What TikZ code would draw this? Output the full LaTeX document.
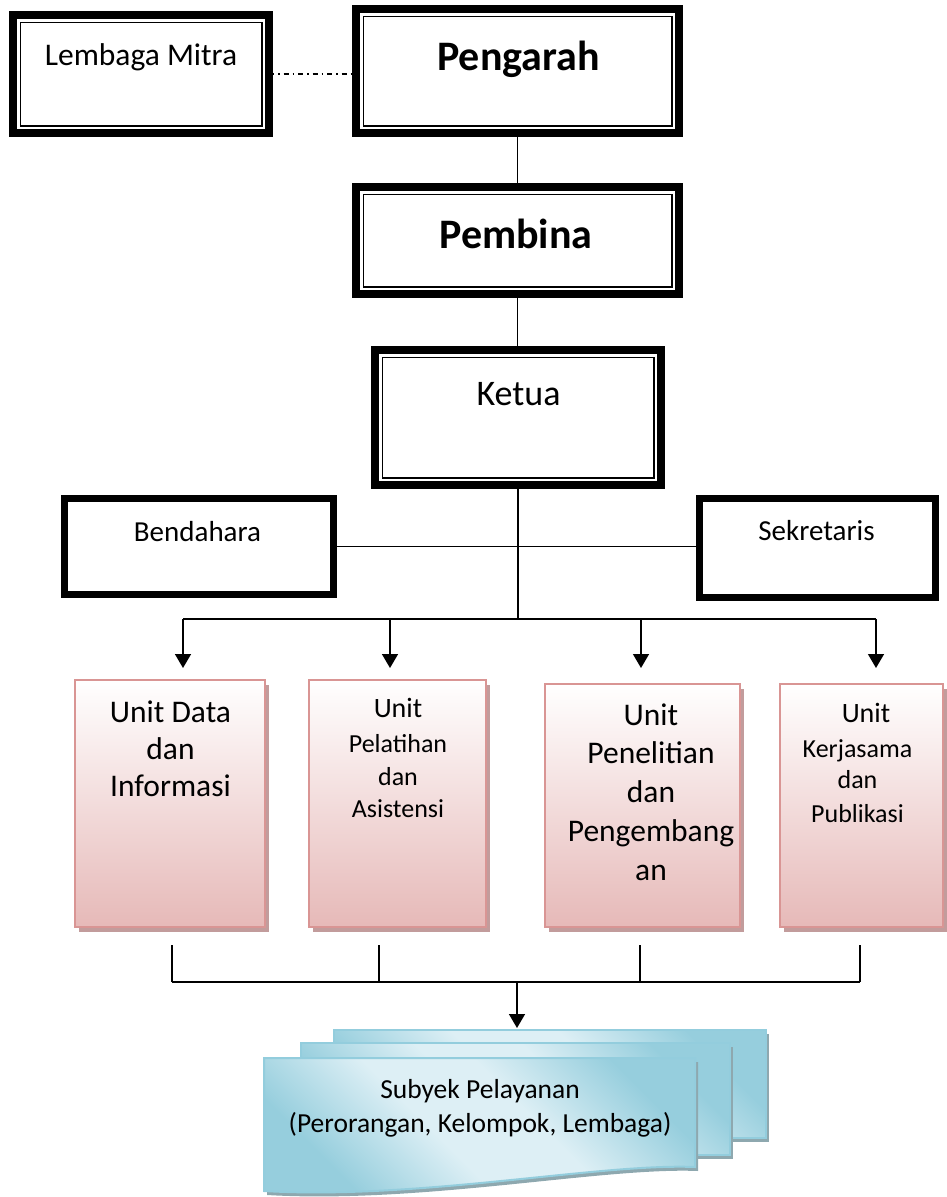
\documentclass[tikz,border=0pt]{standalone}
\usepackage{fontspec}
\setmainfont{Carlito}
\usetikzlibrary{arrows.meta,shadows}
\definecolor{pinkline}{HTML}{D99594}
\definecolor{pinkfill}{HTML}{E6B9B8}
\definecolor{pinkshadow}{HTML}{C29C9C}
\definecolor{blueline}{HTML}{93CDDD}
\definecolor{bluelight}{HTML}{DDEFF5}
\definecolor{bluedark}{HTML}{96CEDD}
\definecolor{blueshadow}{HTML}{8EA8AF}
\pgfdeclareverticalshading{sheetshade}{100bp}{color(0bp)=(bluedark); color(27bp)=(bluedark); color(44bp)=(bluelight); color(58bp)=(bluelight); color(75bp)=(bluedark); color(100bp)=(bluedark)}
\begin{document}
\begin{tikzpicture}[x=1pt,y=-1pt,
  dblbox/.style={draw=black, line width=8pt, fill=white, inner sep=0pt, outer sep=0pt,
    path picture={\draw[line width=1.6pt] ([shift={(7.3pt,-7.3pt)}]path picture bounding box.north west) rectangle ([shift={(-7.3pt,7.3pt)}]path picture bounding box.south east);}},
  sbox/.style={draw=black, line width=7pt, fill=white, inner sep=0pt, outer sep=0pt},
  unitbox/.style={draw=pinkline, line width=2pt, inner sep=0pt, outer sep=0pt,
    drop shadow={shadow xshift=4pt, shadow yshift=-5pt, fill=pinkshadow, opacity=1},
    top color=white, bottom color=pinkfill},
  sheetfill/.style={shading=sheetshade, shading angle=-45},
  sheet/.style={draw=blueline, line width=2pt, inner sep=0pt, outer sep=0pt,
    drop shadow={shadow xshift=3pt, shadow yshift=-4pt, fill=blueshadow, opacity=1},
    sheetfill},
  conn/.style={line width=1.5pt},
  arr/.style={line width=1.5pt, -{Triangle[width=16pt,length=14pt]}},
  txt/.style={inner sep=0pt, anchor=base, align=center}
]
\useasboundingbox (0,0) rectangle (946,1197);

% top boxes
\node[dblbox, minimum width=256pt, minimum height=118pt] (lem) at (141,74) {};
\node[dblbox, minimum width=323pt, minimum height=124pt] (pen) at (517.5,71) {};
\node[dblbox, minimum width=323pt, minimum height=107pt] (pem) at (517.5,240.5) {};
\node[dblbox, minimum width=286pt, minimum height=135pt] (ket) at (518,417.5) {};
\node[sbox, minimum width=269pt, minimum height=96pt] (ben) at (199,546.5) {};
\node[sbox, minimum width=236pt, minimum height=99pt] (sek) at (817.5,548) {};

\node[txt, font=\fontsize{31.5}{38}\selectfont] (t-lem) at (141,65) {Lembaga Mitra};
\node[txt, font=\fontsize{42}{50}\selectfont\bfseries] (t-pen) at (518.5,70) {Pengarah};
\node[txt, font=\fontsize{42}{50}\selectfont\bfseries] (t-pem) at (516,248) {Pembina};
\node[txt, font=\fontsize{36}{43}\selectfont] (t-ket) at (518.5,405) {Ketua};
\node[txt, font=\fontsize{29}{35}\selectfont] (t-ben) at (197.5,541) {Bendahara};
\node[txt, font=\fontsize{29}{35}\selectfont] (t-sek) at (816.5,540) {Sekretaris};

% connectors top
\draw[line width=1.5pt, dash pattern=on 5pt off 4pt on 1.5pt off 4pt] (lem.east) -- (lem.east -| pen.west);
\draw[conn] (pen.south) -- (pen.south |- pem.north);
\draw[conn] (pem.south) -- (pem.south |- ket.north);
\coordinate (dist) at (518,619);
\draw[conn] (ket.south) -- (dist);
\draw[conn] (ben.east) -- (ben.east -| sek.west);

% units
\node[unitbox, minimum width=190pt, minimum height=247pt] (u1) at (170,803.5) {};
\node[unitbox, minimum width=177pt, minimum height=247pt] (u2) at (397.5,803.5) {};
\node[unitbox, minimum width=195pt, minimum height=243pt] (u3) at (642.5,805.5) {};
\node[unitbox, minimum width=163pt, minimum height=243pt] (u4) at (861.5,805.5) {};

\coordinate (d1) at (183,619);
\coordinate (d2) at (390,619);
\coordinate (d3) at (641,619);
\coordinate (d4) at (876,619);
\draw[conn] (d1) -- (d4);
\draw[arr, shorten >=12pt] (d1) -- (d1 |- u1.north);
\draw[arr, shorten >=12pt] (d2) -- (d2 |- u2.north);
\draw[arr, shorten >=16pt] (d3) -- (d3 |- u3.north);
\draw[arr, shorten >=16pt] (d4) -- (d4 |- u4.north);

\node[txt, font=\fontsize{31.5}{37}\selectfont] (t-u1) at (170.5,796) {Unit Data\\dan\\Informasi};
\node[txt, font=\fontsize{28}{34}\selectfont] (t-u2a) at (398,717) {Unit};
\node[txt, font=\fontsize{26}{32}\selectfont] (t-u2b) at (398,752) {Pelatihan};
\node[txt, font=\fontsize{26}{32}\selectfont] (t-u2c) at (398,785) {dan};
\node[txt, font=\fontsize{26}{32}\selectfont] (t-u2d) at (398,817) {Asistensi};
\node[txt, font=\fontsize{31.5}{38.75}\selectfont] (t-u3) at (651,880) {Unit\\Penelitian\\dan\\Pengembang\\an};
\node[txt, font=\fontsize{28}{34}\selectfont] (t-u4a) at (866,722) {Unit};
\node[txt, font=\fontsize{26}{32}\selectfont] (t-u4b) at (857.5,757) {Kerjasama};
\node[txt, font=\fontsize{26}{32}\selectfont] (t-u4c) at (857.5,788) {dan};
\node[txt, font=\fontsize{26}{32}\selectfont] (t-u4d) at (857.5,822) {Publikasi};

% collector
\coordinate (c1) at (172,982);
\coordinate (c2) at (379,982);
\coordinate (c3) at (640,982);
\coordinate (c4) at (860,982);
\coordinate (cm) at (517,982);
\draw[conn, shorten >=18pt] (c1) -- (c1 |- u1.south);
\draw[conn, shorten >=18pt] (c2) -- (c2 |- u2.south);
\draw[conn, shorten >=18pt] (c3) -- (c3 |- u3.south);
\draw[conn, shorten >=18pt] (c4) -- (c4 |- u4.south);
\draw[conn] (c1) -- (c4);

% sheets
\node[sheet, minimum width=432pt, minimum height=108pt] (sub3) at (550,1084) {};
\node[sheet, minimum width=429pt, minimum height=112pt] (sub2) at (515.5,1099) {};
\fill[blueshadow, xshift=3pt, yshift=-4pt] (264,1058) -- (695,1058) -- (695,1167) .. controls (600,1163) and (420,1200) .. (264,1191) -- cycle;
\path[draw=blueline, line width=2pt, sheetfill]
  (264,1058) -- (695,1058) -- (695,1167) .. controls (600,1163) and (420,1200) .. (264,1191) -- cycle;
\draw[arr, shorten >=2pt] (cm) -- (cm |- sub3.north);

\node[txt, font=\fontsize{27.5}{34}\selectfont] (t-sub) at (480,1132) {Subyek Pelayanan\\(Perorangan, Kelompok, Lembaga)};
\end{tikzpicture}
\end{document}
